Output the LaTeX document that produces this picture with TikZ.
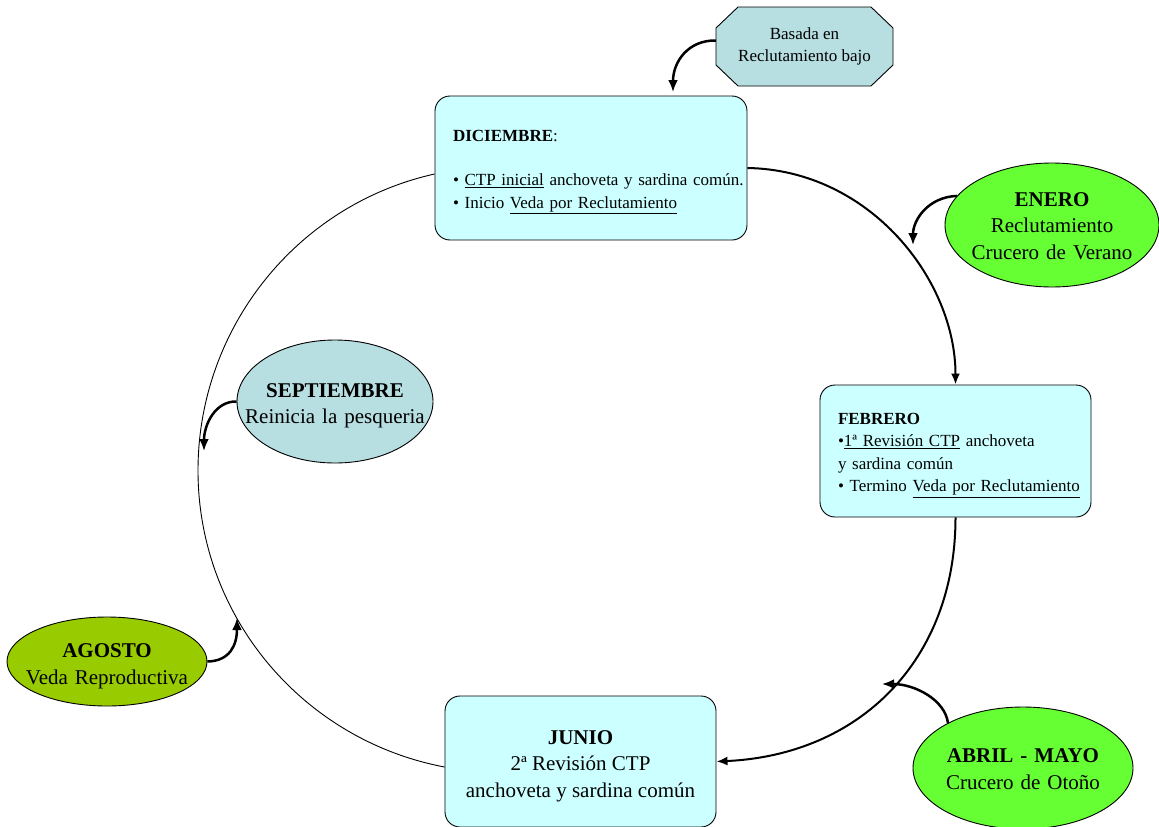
\documentclass[tikz,border=0pt]{standalone}
\usepackage{fontspec}
\setmainfont{Liberation Serif}
\usetikzlibrary{shapes.geometric,arrows.meta}
\definecolor{boxcyan}{HTML}{CCFFFF}
\definecolor{greyblue}{HTML}{B7DEE1}
\definecolor{brightgreen}{HTML}{66FF33}
\definecolor{olivegreen}{HTML}{99CC00}
\newcommand{\ctrline}[1]{\makebox[0pt][c]{#1}}
\begin{document}
\begin{tikzpicture}[x=1pt,y=-1pt,
  smallfont/.style={font=\fontsize{17}{22.5}\selectfont},
  bigfont/.style={font=\fontsize{21}{26.5}\selectfont},
  monthbox/.style={draw=black, line width=0.9pt, fill=boxcyan, rounded corners=15pt},
  oval/.style={ellipse, draw=black, line width=0.9pt, inner sep=0pt, bigfont, align=center, text width=2pt},
  octshape/.style={draw=black, line width=0.9pt, fill=greyblue},
  octbox/.style={minimum width=177pt, minimum height=79pt, smallfont, align=center, inner sep=0pt},
  thinarc/.style={line width=0.9pt},
  thickarc/.style={line width=2pt, -{Latex[length=11pt,width=9pt]}},
  notearrow/.style={line width=2.5pt, -{Latex[length=12pt,width=10pt]}}]
\useasboundingbox (0,0) rectangle (1159,827);

% octagon (drawn shape) and its text node
\path[octshape] (716,28) -- (738,7) -- (871,7) -- (893,28) -- (893,65) -- (871,86) -- (738,86) -- (716,65) -- cycle;
\node[octbox] (oct) at (804.5,46.5) {Basada en\\Reclutamiento bajo};

\node[monthbox, smallfont, minimum width=312pt, minimum height=144pt, text width=276pt, align=left] (dic) at (591,168)
  {\mbox{\rule{0pt}{20pt}\textbf{DICIEMBRE}:}\\[21.5pt]
   \mbox{• \underline{CTP inicial} anchoveta y sardina común.}\\
   \mbox{• Inicio \underline{Veda por Reclutamiento}}};

\node[monthbox, smallfont, minimum width=271pt, minimum height=132pt, text width=235pt, align=left] (feb) at (955.5,451)
  {\mbox{\rule{0pt}{19.5pt}\textbf{FEBRERO}}\\
   \mbox{•\underline{1ª Revisión CTP} anchoveta}\\
   \mbox{y sardina común}\\
   \mbox{• Termino \underline{Veda por Reclutamiento}}};

\node[monthbox, bigfont, align=center, minimum width=271pt, minimum height=131pt] (jun) at (580.5,761.5)
  {\rule{0pt}{23pt}\textbf{JUNIO}\\2ª Revisión CTP\\anchoveta y sardina común};

\node[oval, fill=brightgreen, minimum width=214pt, minimum height=124pt] (ene) at (1052,225)
  {\ctrline{\rule{0pt}{16pt}\textbf{ENERO}}\\\ctrline{Reclutamiento}\\\ctrline{Crucero de Verano}};

\node[oval, fill=greyblue, minimum width=196pt, minimum height=123pt] (sep) at (335,401.5)
  {\ctrline{\rule{0pt}{22pt}\textbf{SEPTIEMBRE}}\\\ctrline{Reinicia la pesqueria}};

\node[oval, fill=olivegreen, minimum width=200pt, minimum height=89pt] (ago) at (107,661.5)
  {\ctrline{\rule{0pt}{23pt}\textbf{AGOSTO}}\\\ctrline{Veda Reproductiva}};

\node[oval, fill=brightgreen, minimum width=220pt, minimum height=122pt] (abr) at (1023,768)
  {\ctrline{\rule{0pt}{16pt}\textbf{ABRIL - MAYO}}\\\ctrline{Crucero de Otoño}};

% free ends
\coordinate (leftmid) at (198,470.5);
\coordinate (octtip) at (673,92);
\coordinate (enetip) at (913,245);
\coordinate (septip) at (204,451);
\coordinate (agotip) at (237,618);
\coordinate (abrtip) at (882,684);

% cycle
\draw[thinarc] ([yshift=-6pt]dic.west) .. controls (296.2,204.9) and (198,328.7) .. (leftmid)
   .. controls (198,615.9) and (302.1,740) .. ([yshift=-5.5pt]jun.west);
\draw[thickarc] (dic.east) .. controls (870,170) and (955.5,280) .. (feb.north);
\draw[thickarc] (feb.south) .. controls (955.5,660) and (860,755) .. (jun.east);

% note arrows
\draw[notearrow] ([yshift=6pt]oct.west) .. controls (688,40) and (673,62) .. (octtip);
\draw[notearrow] (ene.163) .. controls (928,197) and (913,220) .. (enetip);
\draw[notearrow] (sep.west) .. controls (215,401) and (204,425) .. (septip);
\draw[notearrow] (ago.east) .. controls (230,661) and (237,645) .. (agotip);
\draw[notearrow] (abr.149) .. controls (945,700) and (915,684) .. (abrtip);
\end{tikzpicture}
\end{document}
